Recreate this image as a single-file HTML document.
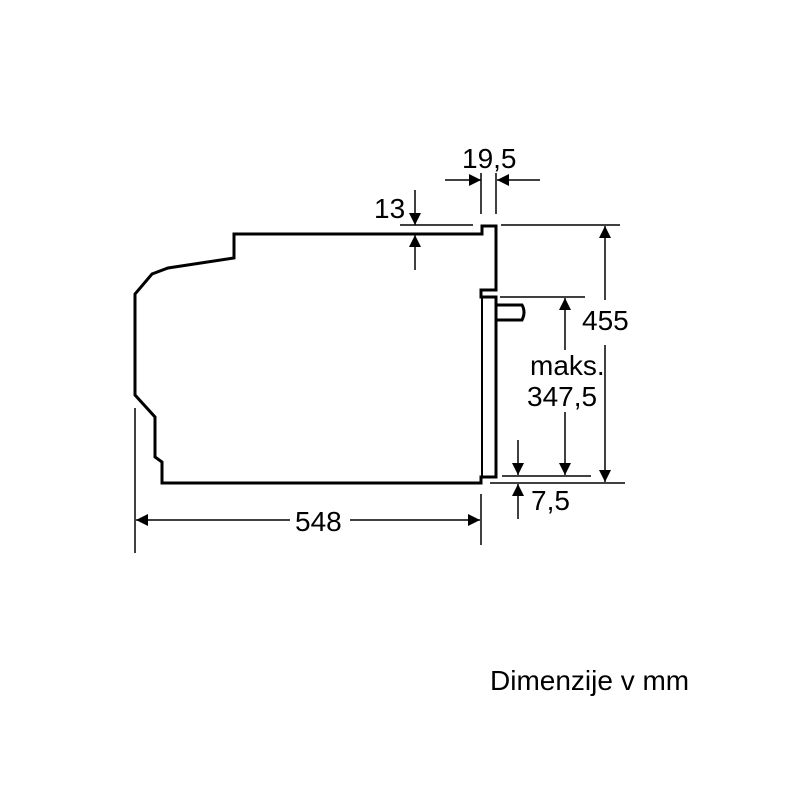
<!DOCTYPE html>
<html><head><style>body{margin:0;background:#fff}svg{display:block}text{font-family:"Liberation Sans",sans-serif;font-size:28px;fill:#000}</style></head>
<body>
<svg width="800" height="800" viewBox="0 0 800 800">
<defs><marker id="a" viewBox="0 0 10 10" refX="10" refY="5" markerWidth="14" markerHeight="12" markerUnits="userSpaceOnUse" orient="auto"><path d="M0,0L10,5L0,10z" fill="#000"/></marker></defs>
<g fill="none" stroke="#000" stroke-width="3" stroke-linejoin="miter">
<path d="M482,234H234V258L168,268L152,274L135,294V395L155,417V457L162,462V483H481V477H496V297H481V290H496V226H482Z"/>
<path d="M497,305H522Q526,312 522,320H497"/>
</g>
<g stroke="#000" stroke-width="1.5" fill="none">
<line x1="482" y1="297" x2="482" y2="477" stroke-width="2"/>
<line x1="135" y1="408" x2="135" y2="553"/>
<line x1="481" y1="494" x2="481" y2="545"/>
<line x1="481" y1="173" x2="481" y2="214"/>
<line x1="496" y1="173" x2="496" y2="214"/>
<line x1="501" y1="225" x2="620" y2="225"/>
<line x1="500" y1="297" x2="585" y2="297"/>
<line x1="502" y1="476" x2="591" y2="476"/>
<line x1="490" y1="483" x2="625" y2="483"/>
<line x1="400" y1="225" x2="473" y2="225"/>
<line x1="445" y1="180" x2="481" y2="180" marker-end="url(#a)"/>
<line x1="540" y1="180" x2="497" y2="180" marker-end="url(#a)"/>
<line x1="415" y1="190" x2="415" y2="225" marker-end="url(#a)"/>
<line x1="415" y1="270" x2="415" y2="235" marker-end="url(#a)"/>
<line x1="290" y1="520" x2="136" y2="520" marker-end="url(#a)"/>
<line x1="350" y1="520" x2="480" y2="520" marker-end="url(#a)"/>
<line x1="605" y1="300" x2="605" y2="226" marker-end="url(#a)"/>
<line x1="605" y1="345" x2="605" y2="482" marker-end="url(#a)"/>
<line x1="565" y1="350" x2="565" y2="298" marker-end="url(#a)"/>
<line x1="565" y1="412" x2="565" y2="475" marker-end="url(#a)"/>
<line x1="518" y1="440" x2="518" y2="475" marker-end="url(#a)"/>
<line x1="518" y1="519" x2="518" y2="484" marker-end="url(#a)"/>
</g>
<text x="462" y="168">19,5</text>
<text x="374" y="218">13</text>
<text x="582" y="330">455</text>
<text x="530" y="375">maks.</text>
<text x="527" y="406">347,5</text>
<text x="531" y="510">7,5</text>
<text x="295" y="531">548</text>
<text x="490" y="690">Dimenzije v mm</text>
</svg>
</body></html>
